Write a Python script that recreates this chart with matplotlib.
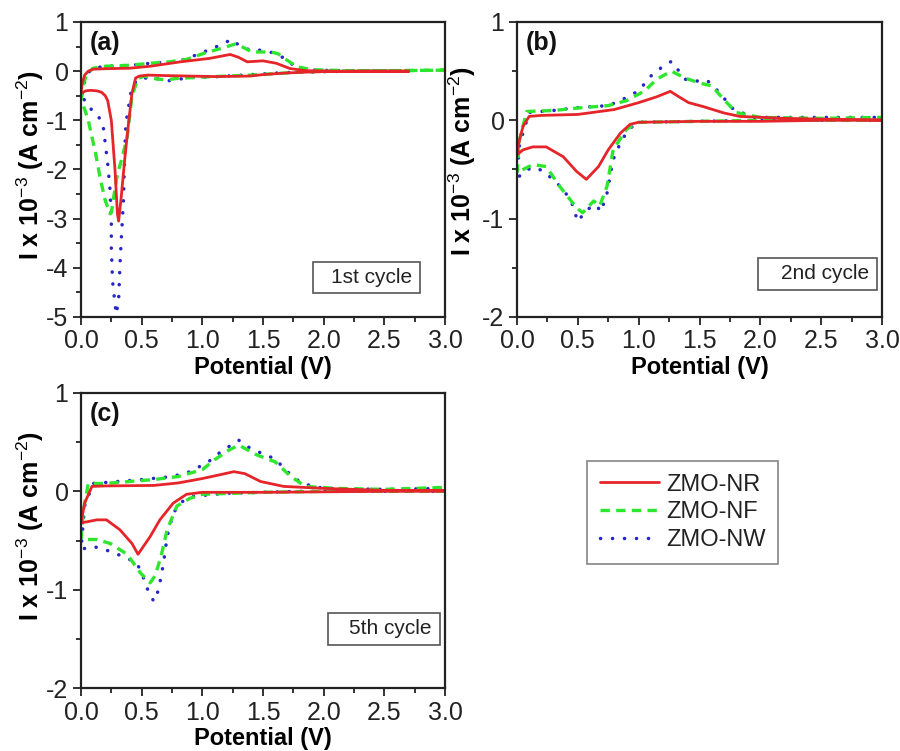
import matplotlib
matplotlib.use("Agg")
import matplotlib.pyplot as plt
from matplotlib.patches import Rectangle
from matplotlib.ticker import MultipleLocator

plt.rcParams['font.family'] = ['Liberation Sans', 'DejaVu Sans']
plt.rcParams['mathtext.fontset'] = 'custom'
plt.rcParams['mathtext.rm'] = 'Liberation Sans'
plt.rcParams['mathtext.bf'] = 'Liberation Sans:bold'
plt.rcParams['axes.unicode_minus'] = False

# ---------------- data ----------------
SERIES = ["ZMO-NR", "ZMO-NF", "ZMO-NW"]
CYCLES = ["1st cycle", "2nd cycle", "5th cycle"]
PANELS = ["(a)", "(b)", "(c)"]

# Panel (a) - 1st cycle
A_NR_V = [2.70, 2.30, 2.00, 1.85, 1.67, 1.50, 1.39, 1.10, 0.90, 0.70, 0.55, 0.48, 0.45, 0.42, 0.39, 0.36, 0.33, 0.31,
          0.30, 0.28, 0.25, 0.22, 0.20, 0.17, 0.13, 0.08, 0.04, 0.00, 0.01, 0.03, 0.06, 0.10, 0.20, 0.40, 0.57, 0.82,
          1.06, 1.23, 1.30, 1.37, 1.50, 1.61, 1.72, 1.85, 2.10, 2.40, 2.70]
A_NR_I = [0.00, 0.00, -0.01, -0.02, -0.04, -0.07, -0.10, -0.11, -0.10, -0.09, -0.08, -0.10, -0.14, -0.45, -1.10, -1.80,
          -2.60, -3.05, -2.90, -2.00, -1.00, -0.60, -0.50, -0.43, -0.40, -0.39, -0.40, -0.45, -0.25, -0.08, 0.00, 0.04,
          0.05, 0.06, 0.10, 0.19, 0.26, 0.34, 0.28, 0.19, 0.21, 0.16, 0.055, 0.01, 0.00, 0.00, 0.00]
A_NF_V = [3.00, 2.50, 2.00, 1.80, 1.60, 1.40, 1.20, 1.00, 0.78, 0.70, 0.60, 0.52, 0.47, 0.42, 0.38, 0.34, 0.30, 0.27,
          0.25, 0.24, 0.20, 0.16, 0.12, 0.06, 0.02, 0.00, 0.02, 0.05, 0.10, 0.20, 0.40, 0.57, 0.73, 0.87, 1.01, 1.15,
          1.27, 1.30, 1.41, 1.56, 1.62, 1.70, 1.78, 1.90, 2.20, 2.60, 3.00]
A_NF_I = [0.02, 0.01, 0.00, -0.02, -0.05, -0.08, -0.10, -0.12, -0.15, -0.18, -0.15, -0.10, -0.15, -0.50, -1.35, -1.75,
          -2.10, -2.55, -2.88, -2.90, -2.63, -2.20, -1.67, -1.00, -0.70, -0.60, -0.25, -0.05, 0.06, 0.10, 0.12, 0.16,
          0.19, 0.24, 0.36, 0.46, 0.55, 0.53, 0.39, 0.39, 0.36, 0.22, 0.09, 0.03, 0.01, 0.01, 0.02]
A_NW_V = [2.70, 2.30, 2.00, 1.67, 1.40, 1.20, 1.06, 0.90, 0.79, 0.71, 0.62, 0.53, 0.49, 0.45, 0.41, 0.37, 0.36, 0.35,
          0.33, 0.32, 0.31, 0.29, 0.28, 0.26, 0.25, 0.25, 0.24, 0.22, 0.20, 0.18, 0.12, 0.06, 0.02, 0.00, 0.02, 0.05,
          0.10, 0.20, 0.40, 0.53, 0.60, 0.79, 0.95, 1.10, 1.19, 1.24, 1.30, 1.39, 1.46, 1.54, 1.60, 1.68, 1.75, 1.86,
          2.10, 2.40, 2.70]
A_NW_I = [0.00, 0.00, -0.01, -0.03, -0.07, -0.10, -0.12, -0.13, -0.17, -0.20, -0.15, -0.14, -0.14, -0.22, -0.45,
          -1.06, -1.67, -2.63, -3.50, -4.00, -4.67, -4.94, -4.73, -4.27, -3.60, -3.04, -2.43, -1.88, -1.47, -1.06,
          -0.84, -0.73, -0.55, -0.60, -0.30, -0.05, 0.06, 0.10, 0.12, 0.15, 0.17, 0.19, 0.33, 0.48, 0.58, 0.65, 0.53,
          0.43, 0.43, 0.41, 0.35, 0.26, 0.12, 0.03, 0.01, 0.00, 0.00]

# Panel (b) - 2nd cycle
B_NR_V = [3.00, 2.50, 2.00, 1.50, 1.00, 0.93, 0.85, 0.75, 0.67, 0.57, 0.49, 0.38, 0.24, 0.13, 0.05, 0.00, 0.02, 0.05,
          0.10, 0.20, 0.50, 0.80, 1.00, 1.15, 1.26, 1.33, 1.41, 1.53, 1.70, 1.83, 2.20, 2.60, 3.00]
B_NR_I = [0.00, 0.00, -0.01, -0.01, -0.02, -0.04, -0.13, -0.30, -0.47, -0.60, -0.52, -0.37, -0.27, -0.27, -0.30, -0.35,
          -0.20, -0.06, 0.04, 0.05, 0.06, 0.11, 0.18, 0.24, 0.295, 0.24, 0.18, 0.14, 0.075, 0.04, 0.02, 0.01, 0.005]
B_NF_V = [3.00, 2.50, 2.00, 1.50, 1.00, 0.90, 0.79, 0.74, 0.68, 0.63, 0.54, 0.49, 0.42, 0.35, 0.24, 0.13, 0.05, 0.00,
          0.02, 0.08, 0.30, 0.50, 0.75, 0.90, 1.05, 1.15, 1.27, 1.38, 1.50, 1.60, 1.68, 1.80, 2.00, 2.50, 3.00]
B_NF_I = [0.00, 0.00, 0.00, -0.01, -0.02, -0.09, -0.30, -0.67, -0.87, -0.82, -0.94, -0.89, -0.78, -0.67, -0.47, -0.45,
          -0.50, -0.54, -0.20, 0.09, 0.10, 0.125, 0.15, 0.20, 0.30, 0.42, 0.50, 0.43, 0.38, 0.35, 0.24, 0.08, 0.03,
          0.02, 0.03]
B_NW_V = [3.00, 2.50, 2.00, 1.50, 1.00, 0.93, 0.86, 0.79, 0.74, 0.69, 0.65, 0.57, 0.50, 0.45, 0.38, 0.24, 0.16, 0.08,
          0.00, 0.02, 0.10, 0.30, 0.50, 0.75, 0.85, 1.00, 1.10, 1.20, 1.27, 1.30, 1.39, 1.48, 1.56, 1.65, 1.78, 1.95,
          2.50, 3.00]
B_NW_I = [0.00, 0.00, 0.00, -0.01, -0.02, -0.08, -0.20, -0.40, -0.74, -0.93, -0.86, -0.91, -1.03, -0.84, -0.70, -0.54,
          -0.48, -0.50, -0.59, -0.25, 0.08, 0.10, 0.13, 0.15, 0.20, 0.30, 0.45, 0.55, 0.60, 0.55, 0.41, 0.40, 0.41,
          0.30, 0.11, 0.03, 0.03, 0.03]

# Panel (c) - 5th cycle
C_NR_V = [3.00, 2.50, 2.00, 1.50, 1.00, 0.87, 0.76, 0.65, 0.57, 0.47, 0.42, 0.32, 0.21, 0.13, 0.05, 0.00, 0.03, 0.09,
          0.20, 0.60, 0.80, 1.00, 1.15, 1.26, 1.35, 1.48, 1.67, 2.00, 2.50, 3.00]
C_NR_I = [0.00, 0.00, -0.005, -0.01, -0.01, -0.03, -0.12, -0.29, -0.46, -0.64, -0.53, -0.39, -0.29, -0.29, -0.31,
          -0.32, -0.12, 0.05, 0.055, 0.06, 0.085, 0.13, 0.17, 0.20, 0.18, 0.10, 0.05, 0.03, 0.01, 0.01]
C_NF_V = [3.00, 2.50, 2.00, 1.50, 1.00, 0.90, 0.79, 0.71, 0.66, 0.61, 0.57, 0.49, 0.38, 0.24, 0.13, 0.00, 0.02, 0.06,
          0.20, 0.40, 0.60, 0.80, 1.00, 1.10, 1.22, 1.30, 1.45, 1.60, 1.73, 1.85, 2.10, 2.50, 3.00]
C_NF_I = [0.00, 0.00, 0.00, -0.01, -0.03, -0.07, -0.15, -0.39, -0.66, -0.86, -0.93, -0.83, -0.64, -0.53, -0.49, -0.49,
          -0.19, 0.08, 0.08, 0.10, 0.12, 0.15, 0.22, 0.32, 0.42, 0.47, 0.37, 0.30, 0.15, 0.05, 0.03, 0.02, 0.04]
C_NW_V = [3.00, 2.50, 1.80, 1.20, 0.93, 0.84, 0.76, 0.71, 0.68, 0.64, 0.60, 0.55, 0.50, 0.46, 0.38, 0.24, 0.10, 0.00,
          0.03, 0.10, 0.30, 0.50, 0.75, 0.90, 1.05, 1.15, 1.30, 1.38, 1.50, 1.60, 1.70, 1.82, 2.00, 2.50, 3.00]
C_NW_I = [0.00, 0.00, 0.00, -0.02, -0.05, -0.10, -0.22, -0.46, -0.73, -1.00, -1.12, -1.00, -0.83, -0.73, -0.68, -0.61,
          -0.56, -0.59, -0.15, 0.08, 0.10, 0.12, 0.15, 0.20, 0.30, 0.40, 0.52, 0.45, 0.38, 0.33, 0.20, 0.08, 0.03,
          0.02, 0.03]

X_TICKS = [0.0, 0.5, 1.0, 1.5, 2.0, 2.5, 3.0]
A_Y_TICKS = [-5, -4, -3, -2, -1, 0, 1]
BC_Y_TICKS = [-2, -1, 0, 1]

# ---------------- style ----------------
COLORS = ["#e5252a", "#2fe62f", "#2626c8"]
STYLES = ["-", (0, (2.8, 1.9)), (0, (0.05, 3.4))]
WIDTHS = [2.0, 2.4, 2.5]
CAPS = ["butt", "butt", "round"]

W, H = 900, 751
fig = plt.figure(figsize=(W / 100, H / 100), dpi=100)


def fax(l, t, r, b):
    return fig.add_axes([l / W, 1 - b / H, (r - l) / W, (b - t) / H])


ax_a = fax(81, 22, 445, 317)
ax_b = fax(517, 22, 882, 317)
ax_c = fax(81, 393, 445, 688)

panel_data = [
    (ax_a, [(A_NR_V, A_NR_I), (A_NF_V, A_NF_I), (A_NW_V, A_NW_I)], A_Y_TICKS, (-0.096, 0.515)),
    (ax_b, [(B_NR_V, B_NR_I), (B_NF_V, B_NF_I), (B_NW_V, B_NW_I)], BC_Y_TICKS, (-0.106, 0.53)),
    (ax_c, [(C_NR_V, C_NR_I), (C_NF_V, C_NF_I), (C_NW_V, C_NW_I)], BC_Y_TICKS, (-0.096, 0.55)),
]

# annotation box positions in axes fraction (x0, y0, x1, y1)
BOXES = [(0.637, 0.081, 0.931, 0.186), (0.66, 0.092, 0.986, 0.200), (0.679, 0.146, 0.986, 0.254)]

handles = []
for k, (ax, series, yt, ylc) in enumerate(panel_data):
    for j in [2, 1, 0]:
        v, i = series[j]
        ln, = ax.plot(v, i, color=COLORS[j], linestyle=STYLES[j], lw=WIDTHS[j],
                      dash_capstyle=CAPS[j], solid_capstyle="round", label=SERIES[j])
        if k == 0:
            handles.append(ln)
    ax.set_xlim(0, 3.0)
    ax.set_ylim(yt[0], yt[-1])
    ax.set_xticks(X_TICKS)
    ax.set_xticklabels([f"{x:.1f}" for x in X_TICKS])
    ax.set_yticks(yt)
    ax.set_yticklabels([str(y) for y in yt])
    ax.xaxis.set_minor_locator(MultipleLocator(0.25))
    ax.yaxis.set_minor_locator(MultipleLocator(0.5))
    ax.tick_params(which="both", direction="out", top=False, right=False, labelsize=18,
                   width=1.3, colors="#222222", labelcolor="#222222")
    ax.tick_params(which="major", length=6, pad=3)
    ax.tick_params(which="minor", length=3.5)
    for s in ax.spines.values():
        s.set_linewidth(1.6)
        s.set_color("#222222")
    ax.set_xlabel("Potential (V)", fontsize=17, fontweight="bold", labelpad=2)
    ax.set_ylabel(r"I x 10$^{-3}$ (A cm$^{-2}$)", fontsize=18, fontweight="bold")
    ax.yaxis.set_label_coords(*ylc)
    ax.text(0.025, 0.968, PANELS[k], transform=ax.transAxes, fontsize=18, fontweight="bold",
            ha="left", va="top", color="#111111")
    x0, y0, x1, y1 = BOXES[k]
    ax.add_patch(Rectangle((x0, y0), x1 - x0, y1 - y0, transform=ax.transAxes, fill=True,
                           facecolor="white", edgecolor="#555555", lw=1.2, zorder=5))
    ax.text(x1 - 0.022, (y0 + y1) / 2, CYCLES[k], transform=ax.transAxes, fontsize=15,
            ha="right", va="center", color="#222222", zorder=6)

handles = handles[::-1]
leg = fig.legend(handles, SERIES, loc="center",
                 bbox_to_anchor=((582 + 783) / 2 / W, 1 - (463 + 562) / 2 / H),
                 fontsize=17, frameon=True, fancybox=False, edgecolor="#666666",
                 handlelength=2.5, handletextpad=0.3, labelspacing=0.25, borderpad=0.55,
                 borderaxespad=0)
leg.get_frame().set_linewidth(1.2)
for t in leg.get_texts():
    t.set_color("#222222")

fig.savefig("out.png", dpi=100)
